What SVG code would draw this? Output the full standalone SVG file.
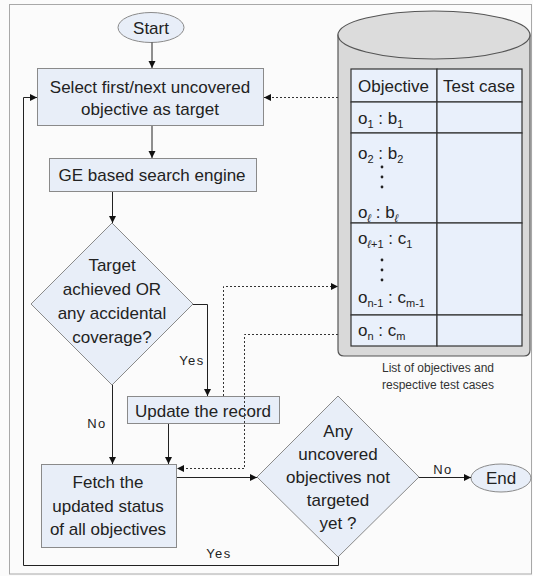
<svg xmlns="http://www.w3.org/2000/svg" width="533" height="576" viewBox="0 0 533 576">
<defs>
<marker id="ah" markerWidth="8" markerHeight="8" refX="7" refY="4" orient="auto" markerUnits="userSpaceOnUse">
<path d="M0,0.5 L7,4 L0,7.5 Z" fill="#111"/>
</marker>
</defs>
<style>
text{font-family:"Liberation Sans",Arial,sans-serif;fill:#222}
.t{font-size:17px;text-anchor:middle}
.tl{font-size:17px}
.lab{font-size:13px;letter-spacing:1.5px;text-anchor:middle}
.cap{font-size:12px;text-anchor:middle;fill:#333}
.box{fill:#e8eef8;stroke:#8a8a8a;stroke-width:1}
.cell{fill:#e9f0fb;stroke:#333;stroke-width:1.2}
.c{fill:none;stroke:#222;stroke-width:1}
.d{fill:none;stroke:#333;stroke-width:1;stroke-dasharray:2 2}
.dot{fill:#222}
</style>
<rect x="0" y="0" width="533" height="576" fill="#fbfbfb"/>
<rect x="9.5" y="4.5" width="522" height="569.5" fill="#fbfbfb" stroke="#a8a8a8" stroke-width="1"/>

<g id="database">
<path d="M338,35 L338,350 Q338,356 344,356 L524,356 Q530,356 530,350 L530,35 Z" fill="#d9d9d9" stroke="#555" stroke-width="1.2"/>
<ellipse cx="434" cy="35" rx="96" ry="24" fill="#dcdcdc" stroke="#555" stroke-width="1.2"/>
<rect class="cell" x="351" y="69" width="86" height="33"/>
<rect class="cell" x="437" y="69" width="85" height="33"/>
<rect class="cell" x="351" y="102" width="86" height="31"/>
<rect class="cell" x="437" y="102" width="85" height="31"/>
<rect class="cell" x="351" y="133" width="86" height="90"/>
<rect class="cell" x="437" y="133" width="85" height="90"/>
<rect class="cell" x="351" y="223" width="86" height="92"/>
<rect class="cell" x="437" y="223" width="85" height="92"/>
<rect class="cell" x="351" y="315" width="86" height="31"/>
<rect class="cell" x="437" y="315" width="85" height="31"/>
<text class="tl" x="358" y="92">Objective</text>
<text class="t" x="479" y="92">Test case</text>
<text class="tl" x="358" y="124">o<tspan font-size="11" dy="4">1</tspan><tspan dy="-4"> : b</tspan><tspan font-size="11" dy="4">1</tspan></text>
<text class="tl" x="358" y="159">o<tspan font-size="11" dy="4">2</tspan><tspan dy="-4"> : b</tspan><tspan font-size="11" dy="4">2</tspan></text>
<circle class="dot" cx="382" cy="167" r="1.4"/>
<circle class="dot" cx="382" cy="177" r="1.4"/>
<circle class="dot" cx="382" cy="187" r="1.4"/>
<text class="tl" x="358" y="218">o<tspan font-size="11" font-style="italic" dy="4">ℓ</tspan><tspan dy="-4"> : b</tspan><tspan font-size="11" font-style="italic" dy="4">ℓ</tspan></text>
<text class="tl" x="358" y="244">o<tspan font-size="11" dy="4"><tspan font-style="italic">ℓ</tspan>+1</tspan><tspan dy="-4"> : c</tspan><tspan font-size="11" dy="4">1</tspan></text>
<circle class="dot" cx="382" cy="260" r="1.4"/>
<circle class="dot" cx="382" cy="270" r="1.4"/>
<circle class="dot" cx="382" cy="280" r="1.4"/>
<text class="tl" x="358" y="303">o<tspan font-size="11" dy="4">n-1</tspan><tspan dy="-4"> : c</tspan><tspan font-size="11" dy="4">m-1</tspan></text>
<text class="tl" x="358" y="336">o<tspan font-size="11" dy="4">n</tspan><tspan dy="-4"> : c</tspan><tspan font-size="11" dy="4">m</tspan></text>
<text class="cap" x="438" y="372">List of objectives and</text>
<text class="cap" x="438" y="389">respective test cases</text>
</g>

<g id="start">
<ellipse cx="151" cy="27.5" rx="33" ry="15" class="box"/>
<text class="t" x="151" y="34">Start</text>
</g>
<g id="select">
<rect class="box" x="37.5" y="68.5" width="226" height="57"/>
<text class="t" x="150" y="93">Select first/next uncovered</text>
<text class="t" x="150" y="115">objective as target</text>
</g>
<g id="ge">
<rect class="box" x="49.5" y="158.5" width="207" height="33"/>
<text class="t" x="152" y="180.5">GE based search engine</text>
</g>
<g id="decision1">
<polygon class="box" points="112,223 193,304 112,385 31,304"/>
<text class="t" x="112" y="271">Target</text>
<text class="t" x="112" y="295">achieved OR</text>
<text class="t" x="112" y="319">any accidental</text>
<text class="t" x="112" y="343">coverage?</text>
</g>
<g id="update">
<rect class="box" x="127.5" y="396.5" width="152" height="27"/>
<text class="t" x="203" y="417">Update the record</text>
</g>
<g id="fetch">
<rect class="box" x="41.5" y="464.5" width="135" height="83"/>
<text class="t" x="108" y="488">Fetch the</text>
<text class="t" x="108" y="512">updated status</text>
<text class="t" x="108" y="535">of all objectives</text>
</g>
<g id="decision2">
<polygon class="box" points="338,396 419,477 338,557 257,477"/>
<text class="t" x="338" y="437">Any</text>
<text class="t" x="338" y="460">uncovered</text>
<text class="t" x="338" y="483">objectives not</text>
<text class="t" x="338" y="506">targeted</text>
<text class="t" x="338" y="529">yet ?</text>
</g>
<g id="end">
<ellipse cx="501" cy="478" rx="30" ry="14" class="box"/>
<text class="t" x="501" y="484">End</text>
</g>

<g id="connectors">
<line class="c" x1="152" y1="42.5" x2="152" y2="68" marker-end="url(#ah)"/>
<line class="c" x1="152" y1="126" x2="152" y2="158" marker-end="url(#ah)"/>
<line class="c" x1="112.5" y1="192" x2="112.5" y2="223" marker-end="url(#ah)"/>
<polyline class="c" points="193,304.5 207.5,304.5 207.5,396" marker-end="url(#ah)"/>
<line class="c" x1="112.5" y1="385" x2="112.5" y2="464" marker-end="url(#ah)"/>
<line class="c" x1="168.5" y1="424" x2="168.5" y2="464" marker-end="url(#ah)"/>
<line class="c" x1="177" y1="477.5" x2="257" y2="477.5" marker-end="url(#ah)"/>
<line class="c" x1="419" y1="477.5" x2="471" y2="477.5" marker-end="url(#ah)"/>
<polyline class="c" points="338.5,557 338.5,565.5 23.5,565.5 23.5,97.5 37,97.5" marker-end="url(#ah)"/>
<line class="d" x1="338" y1="97.5" x2="264" y2="97.5" marker-end="url(#ah)"/>
<polyline class="d" points="223.5,396 223.5,286.5 338,286.5" marker-end="url(#ah)"/>
<polyline class="d" points="338,334.5 244.5,334.5 244.5,468.5 177,468.5" marker-end="url(#ah)"/>
<text class="lab" x="192" y="365">Yes</text>
<text class="lab" x="97" y="428">No</text>
<text class="lab" x="443" y="474">No</text>
<text class="lab" x="219" y="558">Yes</text>
</g>
</svg>
